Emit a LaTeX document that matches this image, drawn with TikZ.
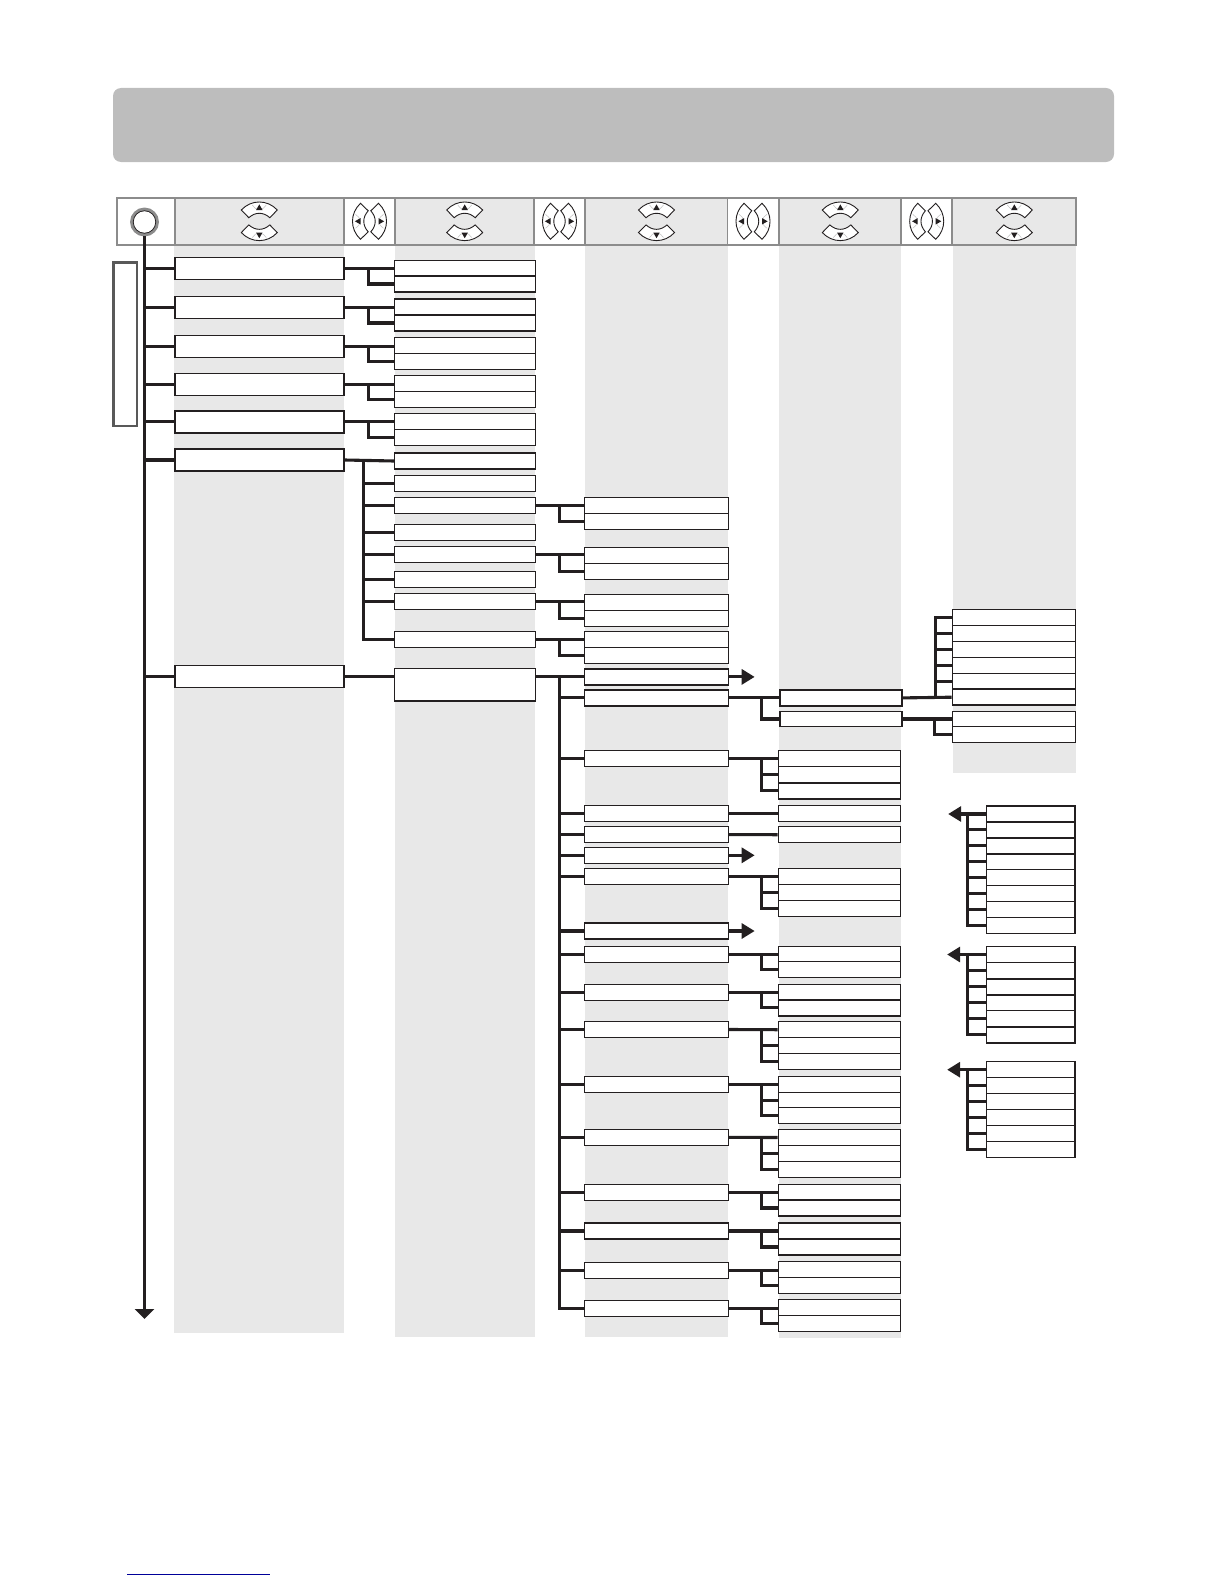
\documentclass[tikz,border=0pt]{standalone}
\usetikzlibrary{arrows.meta}

\definecolor{bandgris}{HTML}{BDBDBD}
\definecolor{tira}{HTML}{E8E8E8}
\definecolor{marco}{HTML}{8C8C8C}
\definecolor{tinta}{HTML}{231F20}

\begin{document}
\begin{tikzpicture}[
    x=1pt,y=-1pt,
    celda/.style={rectangle,draw=marco,line width=1.5pt,inner sep=0pt,minimum height=47pt},
    caja/.style={rectangle,draw=tinta,line width=1.3pt,fill=white,inner sep=0pt},
    cajaa/.style={caja,minimum width=169pt,minimum height=22pt},
    cajab/.style={caja,minimum width=140.5pt,minimum height=16pt},
    cajac/.style={caja,minimum width=144pt,minimum height=16pt},
    cajad/.style={caja,minimum width=122.4pt,minimum height=16pt},
    cajae/.style={caja,minimum width=123pt,minimum height=15.8pt},
    cajaf/.style={caja,minimum width=88.6pt,minimum height=16pt},
    arco/.style={draw=tinta,line width=3.1pt},
    flecha/.style={arco,-{Triangle[width=15pt,length=13pt]}},
    boton/.style={draw=tinta,line width=0.9pt,fill=white},
    tenue/.style={draw=black!25,line width=0.5pt},
    pulsa/.pic={
      \draw[boton] (-18,0) .. controls (-8,-10.7) and (8,-10.7) .. (18,0)
        -- (10.5,7.7) .. controls (4,1.8) and (-4,1.8) .. (-10.5,7.7) -- cycle;
      \draw[tenue] (-7,-5) .. controls (-4,1) and (4,1) .. (7,-5);
      \fill[tinta] (-3.2,0) -- (3.2,0) -- (0,-5.6) -- cycle;
    }]

  % page band and grey strips
  \node[rectangle,fill=bandgris,rounded corners=8pt,minimum width=1001pt,minimum height=74pt,
        inner sep=0pt] (banda) at (613.5,125) {};
  \fill[tira] (174,245) rectangle (344,1332.7);
  \fill[tira] (395,245) rectangle (535,1336.7);
  \fill[tira] (585,245) rectangle (728,1336.7);
  \fill[tira] (779,245) rectangle (901,1338);
  \fill[tira] (953,245) rectangle (1076,772.7);

  % header row
  \node[celda,minimum width=58.5pt,fill=white] (hd0) at (146,221.3) {};
  \foreach \n/\x/\w in {hd1/259.5/169,hd3/464.8/140,hd5/656.5/142,hd7/840/122.5,hd9/1014/124}
    \node[celda,minimum width=\w pt,fill=tira] (\n) at (\x,221.3) {};
  \foreach \n/\x/\w in {hd2/369.5/51,hd4/559.5/51,hd6/753/51,hd8/926.5/51}
    \node[celda,minimum width=\w pt,fill=white] (\n) at (\x,221.3) {};

  \foreach \x in {259.3,464.7,656.5,840.3,1014.3} {
    \pic at (\x,210) {pulsa};
    \pic[yscale=-1] at (\x,232.6) {pulsa};
  }
  \foreach \x in {369.5,559.5,753,926.7} {
    \pic[rotate=90] at (\x-9,221.3) {pulsa};
    \pic[rotate=-90] at (\x+9,221.3) {pulsa};
  }

  \node[circle,draw=black!45,line width=3.4pt,fill=white,inner sep=0pt,minimum size=25.5pt] (circ) at (144.5,222) {};
  \node[circle,draw=tinta,line width=0.7pt,inner sep=0pt,minimum size=22.5pt] at (circ) {};

  % tall box on the left
  \node[rectangle,draw=black!65,line width=2.4pt,fill=white,inner sep=0pt,
        minimum width=23.4pt,minimum height=163.3pt] (lat) at (125,344.3) {};

  % first column
  \foreach \n/\y in {a1/268.3,a2/307.2,a3/346.3,a4/384.2,a5/421.9,a6/460,a7/676.5}
    \node[cajaa] (\n) at (259.5,\y) {};

  % second column
  \foreach \n/\y in {b1/268.3,b2/284,b3/307,b4/323,b5/345.6,b6/361.5,b7/383.6,b8/399.4,b9/421.3,b10/437.4,
                     g1/461,g2/483.2,g3/505.3,g4/532.5,g5/554.7,g6/579.7,g7/601.7,g8/639.8}
    \node[cajab] (\n) at (464.9,\y) {};
  \node[cajab,minimum height=32.7pt] (b11) at (464.9,684.7) {};

  % third column
  \foreach \n/\y in {h1/505.5,h2/521.8,h3/555.3,h4/571.3,h5/602.3,h6/618.3,h7/639.3,h8/655.3}
    \node[cajac] (\n) at (656.5,\y) {};
  \foreach \n/\y in {c1/676.9,c2/697.9,c3/758.7,c4/813.2,c5/834.5,c6/855.3,c7/876.3,c8/931,c9/954.3,
                     c10/992.3,c11/1029.5,c12/1084.3,c13/1137.3,c14/1192.3,c15/1231,c16/1270.3,c17/1308.3}
    \node[cajac] (\n) at (656.5,\y) {};

  % fourth column
  \node[cajad,minimum width=122pt] (d1) at (841,697.9) {};
  \node[cajad,minimum width=122pt,minimum height=14.6pt] (d2) at (841,719) {};
  \foreach \n/\y in {d3/758.7,d4/774.7,d5/790.9,d6/813.2,d7/834.8,d8/876.3,d9/892.3,d10/908.3,
                     d11/954.3,d12/969.8,d13/992.2,d14/1007.9,d15/1029.7,d16/1045.7,d17/1061.8,
                     d18/1084.3,d19/1100.3,d20/1115.8,d21/1137.5,d22/1153.7,d23/1169.7,
                     d24/1192.2,d25/1208,d26/1231,d27/1247,d28/1269.4,d29/1285.5,d30/1307.7,d31/1323.8}
    \node[cajad] (\n) at (839.5,\y) {};

  % fifth column
  \foreach \n/\y in {e1/617.7,e2/633.7,e3/649.7,e4/665.5,e5/681.2,e6/697.2,e7/719.2,e8/734.7}
    \node[cajae] (\n) at (1013.8,\y) {};

  % lists on the right
  \foreach \n/\y in {fa1/814,fa2/829.9,fa3/845.9,fa4/861.9,fa5/877.7,fa6/893.7,fa7/909.7,fa8/925.2,
                     fb1/954.5,fb2/970.7,fb3/986.9,fb4/1002.9,fb5/1018.7,fb6/1034.9,
                     fc1/1069.7,fc2/1085.5,fc3/1101.5,fc4/1117.5,fc5/1133.3,fc6/1149.3}
    \node[cajaf] (\n) at (1030.6,\y) {};

  % main line
  \coordinate (fin) at (144.5,1319);
  \draw[arco,-{Triangle[width=19pt,length=10pt]}] (circ.south) -- (fin);
  \foreach \n in {a1,a2,a3,a4,a5,a6,a7}
    \draw[arco] (circ |- \n.west) -- (\n.west);

  % forks with two branches
  \foreach \s/\t/\u/\o in {a1/b1/b2/24,a2/b3/b4/24,a3/b5/b6/24,a4/b7/b8/24,a5/b9/b10/24,
                           g3/h1/h2/24,g5/h3/h4/24,g7/h5/h6/24,g8/h7/h8/24,
                           c2/d1/d2/32,c9/d11/d12/32,c10/d13/d14/32,c14/d24/d25/32,c15/d26/d27/32,
                           c16/d28/d29/32,c17/d30/d31/32,d2/e7/e8/32} {
    \draw[arco] (\s.east) -- (\s.east -| \t.west);
    \draw[arco] ([xshift=\o pt]\s.east) |- (\u.west);
  }

  % forks with three branches
  \foreach \s/\t/\m/\u in {c3/d3/d4/d5,c7/d8/d9/d10,c11/d15/d16/d17,c12/d18/d19/d20,c13/d21/d22/d23} {
    \draw[arco] (\s.east) -- (\t.west);
    \draw[arco] ([xshift=32pt]\s.east) |- (\u.west);
    \draw[arco] ([xshift=32pt]\s.east |- \m.west) -- (\m.west);
  }

  % single links
  \draw[arco] (c4) -- (d6);
  \draw[arco] (c5) -- (d7);
  \draw[arco] (a7.east) -- (a7.east -| b11.west);
  \draw[arco] (b11.east |- c1) -- (c1.west);

  % second column list
  \draw[arco] (a6.east) -- (g1.west);
  \draw[arco] ([xshift=19pt]a6.east) |- (g8.west);
  \foreach \n in {g2,g3,g4,g5,g6,g7}
    \draw[arco] ([xshift=19pt]a6.east |- \n.west) -- (\n.west);

  % third column list
  \coordinate (rama) at (559.3,676.9);
  \draw[arco] (rama) |- (c17.west);
  \foreach \n in {c2,c3,c4,c5,c6,c7,c8,c9,c10,c11,c12,c13,c14,c15,c16}
    \draw[arco] (rama |- \n.west) -- (\n.west);

  % fifth column list
  \draw[arco] (d1.east) -- (e6.west);
  \draw[arco] ([xshift=33pt]d1.east) |- (e1.west);
  \foreach \n in {e2,e3,e4,e5}
    \draw[arco] ([xshift=33pt]d1.east |- \n.west) -- (\n.west);

  % arrows going right
  \foreach \n in {c1,c6,c8} {
    \coordinate (p\n) at ([xshift=25.5pt]\n.east);
    \draw[flecha] (\n.east) -- (p\n);
  }

  % arrows going left
  \foreach \n/\u/\t in {fa1/fa8/37.5,fb1/fb6/38.5,fc1/fc6/38.5} {
    \coordinate (p\n) at ([xshift=-\t pt]\n.west);
    \draw[flecha] (\n.west) -- (p\n);
    \draw[arco] ([xshift=-18.5pt]\n.west) |- (\u.west);
  }
  \foreach \n in {fa2,fa3,fa4,fa5,fa6,fa7,fb2,fb3,fb4,fb5,fc2,fc3,fc4,fc5}
    \draw[arco] ([xshift=-18.5pt]\n.west) -- (\n.west);

  % foot rule
  \coordinate (pie1) at (127.3,1574.5);
  \coordinate (pie2) at (269.5,1574.5);
  \draw[draw=blue!60!black,line width=1pt] (pie1) -- (pie2);

  \useasboundingbox (0,0) rectangle (1224,1584);

\end{tikzpicture}
\end{document}
